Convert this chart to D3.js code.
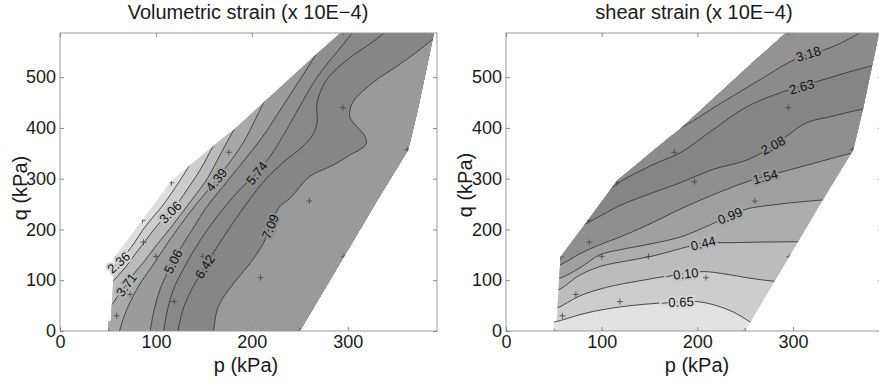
<!DOCTYPE html>
<html>
<head>
<meta charset="utf-8">
<script src="https://cdn.jsdelivr.net/npm/d3@7"></script>
<style>
  body { margin: 0; background: #fff; }
  svg { display: block; font-family: "Liberation Sans", Arial, Helvetica, sans-serif; }
</style>
</head>
<body>
<svg id="chart" width="879" height="383"></svg>
<script>
// axis ranges and ticks (p, q in kPa)
const pDomain = [0, 393];
const qDomain = [0, 587];
const pTicks = [0, 100, 200, 300];
const qTicks = [0, 100, 200, 300, 400, 500];

// outline of the tested stress region
const hull = [[50, 0], [250, 0], [331, 258], [363, 357], [373, 436], [390, 588], [293, 588], [265, 541],
  [182, 398], [168, 377], [116, 296], [88, 224], [57, 146], [53, 20], [50, 18]];

// measured stress points (+)
const testPoints = [[50, 0], [250, 0], [59, 30], [73, 72], [87, 175], [86, 218], [100, 147], [119, 58],
  [116, 292], [149, 147], [176, 352], [197, 294], [209, 105], [260, 256], [295, 440], [296, 146],
  [362, 357], [295, 588], [57, 146]];

// volumetric strain contours (x 10E-4)
const volLevels = ['2.36', '3.06', '3.71', '4.39', '5.06', '5.74', '6.42', '7.09'];
const volColors = ['#dedede', '#cdcdcd', '#bbbbbb', '#a8a8a8', '#9b9b9b', '#8f8f8f', '#888888', '#868686', '#9a9a9a'];
const volLines = [
  [[45, 112], [52, 120], [58, 130], [64, 140], [70, 155], [78, 175], [86, 198], [95, 220], [104, 240], [112, 260], [120, 282], [128, 305], [136, 330]],
  [[45, 85], [54, 96], [60, 108], [68, 125], [77, 148], [88, 175], [98, 200], [107, 220], [115, 235], [124, 255], [133, 280], [142, 305], [150, 330], [157, 355], [164, 380]],
  [[45, 40], [53, 50], [60, 68], [69, 91], [78, 115], [89, 140], [101, 170], [114, 200], [127, 232], [140, 265], [150, 290], [158, 315], [165, 340], [172, 365], [180, 392], [188, 420]],
  [[60, -10], [62, 0], [67, 30], [74, 60], [84, 95], [97, 130], [111, 170], [126, 210], [140, 245], [152, 272], [163, 298], [176, 330], [188, 362], [198, 395], [207, 430], [215, 460]],
  [[93, -10], [94, 0], [98, 41], [104, 81], [112, 115], [118, 137], [128, 170], [140, 206], [153, 245], [168, 280], [185, 320], [200, 355], [214, 390], [226, 425], [238, 460], [250, 495], [262, 530], [275, 570]],
  [[107, -10], [108, 0], [112, 41], [118, 81], [128, 120], [140, 160], [156, 206], [172, 245], [188, 280], [205, 311], [219, 344], [232, 383], [248, 436], [268, 500], [288, 548], [306, 590], [310, 600]],
  [[122, -10], [123, 0], [128, 41], [137, 81], [151, 127], [164, 166], [180, 212], [198, 260], [215, 300], [232, 331], [252, 362], [263, 385], [268, 410], [268, 450], [278, 495], [300, 535], [330, 575], [345, 600]],
  [[159, -10], [160, 0], [165, 48], [181, 94], [198, 133], [212, 173], [219, 206], [229, 245], [240, 262], [260, 304], [285, 327], [299, 343], [319, 368], [318, 383], [306, 410], [302, 422], [305, 450], [326, 489], [354, 525], [375, 554], [395, 585], [405, 600]]
];
const volLabelAt = [[61, 135], [115, 234], [69, 91], [163, 298], [118, 137], [205, 311], [151, 127], [219, 206]];

// shear strain contours (x 10E-4)
const shearLevels = ['\u22120.65', '\u22120.10', '0.44', '0.99', '1.54', '2.08', '2.63', '3.18'];
const shearColors = ['#e2e2e2', '#cdcdcd', '#bcbcbc', '#adadad', '#a0a0a0', '#8f8f8f', '#858585', '#8b8b8b', '#939393'];
const shearLines = [
  [[40, 17], [51, 18], [77, 32], [98, 41], [126, 49], [161, 55], [199, 58], [220, 50], [238, 37], [255, 18], [270, 0]],
  [[40, 40], [53, 45], [77, 69], [105, 86], [140, 99], [175, 110], [206, 117], [230, 112], [255, 104], [280, 98], [300, 96]],
  [[40, 75], [54, 80], [77, 110], [100, 128], [126, 138], [154, 148], [182, 162], [206, 173], [234, 174], [262, 175], [305, 176], [320, 177]],
  [[40, 100], [56, 104], [77, 124], [98, 150], [119, 160], [147, 170], [182, 185], [206, 203], [234, 227], [251, 240], [286, 250], [330, 258], [345, 260]],
  [[40, 126], [56, 130], [77, 152], [98, 170], [119, 185], [147, 208], [182, 240], [216, 268], [258, 298], [286, 312], [321, 330], [363, 351], [390, 360]],
  [[70, 200], [80, 208], [100, 228], [120, 248], [147, 268], [182, 292], [216, 318], [252, 337], [279, 364], [314, 410], [339, 422], [370, 436], [400, 445]],
  [[100, 265], [116, 290], [140, 315], [160, 333], [182, 351], [216, 396], [252, 442], [297, 476], [321, 489], [356, 509], [388, 525], [410, 535]],
  [[170, 395], [182, 400], [224, 448], [269, 499], [304, 537], [339, 558], [363, 580], [380, 600]]
];
const shearLabelAt = [[179, 57], [184, 112], [206, 173], [234, 227], [271, 304], [279, 366], [309, 481], [316, 546]];

const svg = d3.select('#chart');
const defs = svg.append('defs');

function drawPanel(cfg) {
  const x = d3.scaleLinear().domain(pDomain).range(cfg.xRange);
  const y = d3.scaleLinear().domain(qDomain).range([331, 33]);
  const g = svg.append('g');

  // clip to the axes box, then to the tested region
  defs.append('clipPath').attr('id', cfg.id + '-box')
    .append('rect')
    .attr('x', x(pDomain[0])).attr('y', y(qDomain[1]))
    .attr('width', x(pDomain[1]) - x(pDomain[0]))
    .attr('height', y(qDomain[0]) - y(qDomain[1]));
  defs.append('clipPath').attr('id', cfg.id + '-hull')
    .append('path')
    .attr('d', 'M' + hull.map(d => [x(d[0]), y(d[1])]).join('L') + 'Z');

  const plot = g.append('g').attr('clip-path', 'url(#' + cfg.id + '-box)')
    .append('g').attr('clip-path', 'url(#' + cfg.id + '-hull)');

  plot.append('rect')
    .attr('x', x(pDomain[0])).attr('y', y(qDomain[1]))
    .attr('width', x(pDomain[1]) - x(pDomain[0]))
    .attr('height', y(qDomain[0]) - y(qDomain[1]))
    .attr('fill', cfg.colors[0]);

  const line = d3.line()
    .x(d => x(d[0]))
    .y(d => y(d[1]))
    .curve(d3.curveCatmullRom.alpha(0.5));

  // filled bands: region above each level painted in order
  cfg.lines.forEach(function (pts, i) {
    const extra = cfg.close(pts).map(d => [x(d[0]), y(d[1])]);
    plot.append('path')
      .attr('d', line(pts) + 'L' + extra.join('L') + 'Z')
      .attr('fill', cfg.colors[i + 1]);
  });

  plot.selectAll('.contour')
    .data(cfg.lines)
    .enter()
    .append('path')
    .attr('class', 'contour')
    .attr('d', line)
    .attr('fill', 'none')
    .attr('stroke', '#383838')
    .attr('stroke-width', 0.9);

  // stress points
  plot.selectAll('.pt')
    .data(testPoints)
    .enter()
    .append('path')
    .attr('class', 'pt')
    .attr('d', d => 'M' + (x(d[0]) - 3) + ',' + y(d[1]) + 'h6M' + x(d[0]) + ',' + (y(d[1]) - 3) + 'v6')
    .attr('stroke', '#444')
    .attr('stroke-width', 0.8);

  // inline contour labels, rotated along the line
  cfg.labelAt.forEach(function (lp, i) {
    const px = x(lp[0]), py = y(lp[1]);
    const pts = cfg.lines[i].map(d => [x(d[0]), y(d[1])]);
    let best = 0, bestD = Infinity;
    for (let k = 0; k < pts.length - 1; k++) {
      const mx = (pts[k][0] + pts[k + 1][0]) / 2, my = (pts[k][1] + pts[k + 1][1]) / 2;
      const dd = (mx - px) * (mx - px) + (my - py) * (my - py);
      if (dd < bestD) { bestD = dd; best = k; }
    }
    let ang = Math.atan2(pts[best + 1][1] - pts[best][1], pts[best + 1][0] - pts[best][0]) * 180 / Math.PI;
    if (ang > 90) ang -= 180;
    if (ang < -90) ang += 180;
    const bg = d3.interpolateRgb(cfg.colors[i], cfg.colors[i + 1])(0.5);
    g.append('text')
      .attr('transform', 'translate(' + px + ',' + py + ') rotate(' + ang + ')')
      .attr('text-anchor', 'middle')
      .attr('dy', '0.36em')
      .attr('font-size', 13)
      .attr('fill', '#111')
      .attr('stroke', bg)
      .attr('stroke-width', 4)
      .attr('paint-order', 'stroke')
      .text(cfg.levels[i]);
  });

  // axes box with inward ticks
  g.append('rect')
    .attr('x', x(pDomain[0])).attr('y', y(qDomain[1]))
    .attr('width', x(pDomain[1]) - x(pDomain[0]))
    .attr('height', y(qDomain[0]) - y(qDomain[1]))
    .attr('fill', 'none')
    .attr('stroke', '#9a9a9a');

  const axes = [
    g.append('g').attr('transform', 'translate(0,' + y(0) + ')')
      .call(d3.axisBottom(x).tickValues(pTicks).tickSizeInner(-4).tickSizeOuter(0).tickPadding(4)),
    g.append('g').attr('transform', 'translate(0,' + y(qDomain[1]) + ')')
      .call(d3.axisTop(x).tickValues(pTicks).tickSizeInner(-4).tickSizeOuter(0).tickFormat('')),
    g.append('g').attr('transform', 'translate(' + x(0) + ',0)')
      .call(d3.axisLeft(y).tickValues(qTicks).tickSizeInner(-4).tickSizeOuter(0).tickPadding(4)),
    g.append('g').attr('transform', 'translate(' + x(pDomain[1]) + ',0)')
      .call(d3.axisRight(y).tickValues(qTicks).tickSizeInner(-4).tickSizeOuter(0).tickFormat(''))
  ];
  axes.forEach(function (a) {
    a.select('.domain').remove();
    a.selectAll('line').attr('stroke', '#8a8a8a');
    a.selectAll('text')
      .attr('font-size', 18)
      .attr('fill', '#1a1a1a')
      .style('font-family', '"Liberation Sans", Arial, sans-serif');
  });

  g.append('text')
    .attr('x', cfg.titleX).attr('y', 19)
    .attr('text-anchor', 'middle')
    .attr('font-size', 20)
    .attr('fill', '#1a1a1a')
    .text(cfg.title);

  g.append('text')
    .attr('x', cfg.xLabelX).attr('y', 372)
    .attr('text-anchor', 'middle')
    .attr('font-size', 20)
    .attr('fill', '#1a1a1a')
    .text('p (kPa)');

  g.append('text')
    .attr('transform', 'translate(' + cfg.yLabelX + ',' + cfg.yLabelY + ') rotate(-90)')
    .attr('text-anchor', 'middle')
    .attr('dy', '0.35em')
    .attr('font-size', 20)
    .attr('fill', '#1a1a1a')
    .text('q (kPa)');
}

drawPanel({
  id: 'vol',
  xRange: [60, 437],
  title: 'Volumetric strain (x 10E\u22124)',
  titleX: 248,
  xLabelX: 246,
  yLabelX: 20,
  yLabelY: 188,
  levels: volLevels,
  colors: volColors,
  lines: volLines,
  labelAt: volLabelAt,
  // higher values lie to the right of each line
  close: pts => [[pts[pts.length - 1][0], 1000], [1000, 1000], [1000, -100], [pts[0][0], -100]]
});

drawPanel({
  id: 'shear',
  xRange: [506, 882],
  title: 'shear strain (x 10E\u22124)',
  titleX: 694,
  xLabelX: 697,
  yLabelX: 465,
  yLabelY: 185,
  levels: shearLevels,
  colors: shearColors,
  lines: shearLines,
  labelAt: shearLabelAt,
  // higher values lie above each line
  close: pts => [[1000, pts[pts.length - 1][1]], [1000, 1000], [-100, 1000], [-100, pts[0][1]]]
});
</script>
</body>
</html>
